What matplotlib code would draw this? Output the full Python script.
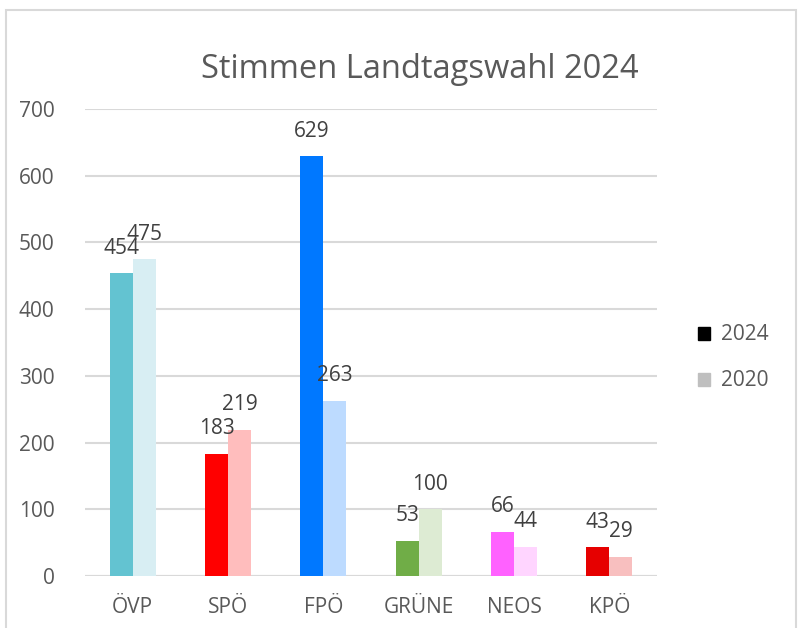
import matplotlib.pyplot as plt
from matplotlib.patches import Patch, Rectangle
import numpy as np

plt.rcParams['font.family'] = ['Open Sans', 'DejaVu Sans']

parteien = ['ÖVP', 'SPÖ', 'FPÖ', 'GRÜNE', 'NEOS', 'KPÖ']
stimmen_2024 = [454, 183, 629, 53, 66, 43]
stimmen_2020 = [475, 219, 263, 100, 44, 29]
farben_2024 = ['#63C3D1', '#FF0000', '#0078FF', '#70AD47', '#FF61FF', '#E60000']
farben_2020 = ['#D8EEF3', '#FFBDBD', '#BDDBFF', '#DDEBD3', '#FFD5FF', '#F8BFBF']

grau = '#595959'
linie = '#D9D9D9'

fig = plt.figure(figsize=(8, 6.28), dpi=100)
# Rahmen des Diagrammbereichs
fig.patches.append(Rectangle((6 / 800, -0.05), 790 / 800, 1.05 - 10 / 628,
                             transform=fig.transFigure, fill=False,
                             edgecolor=linie, linewidth=1.5))

ax = fig.add_axes([85 / 800, 1 - 576 / 628, 572 / 800, 467 / 628])
x = np.arange(len(parteien))
w = 0.24
b1 = ax.bar(x - w / 2, stimmen_2024, w, color=farben_2024, zorder=3)
b2 = ax.bar(x + w / 2, stimmen_2020, w, color=farben_2020, zorder=3)

for bars in (b1, b2):
    for r in bars:
        ax.annotate(str(int(r.get_height())),
                    (r.get_x() + r.get_width() / 2, r.get_height()),
                    xytext=(0, 18), textcoords='offset points',
                    ha='center', va='center', fontsize=15, color='#404040')

ax.set_ylim(0, 700)
ax.set_xlim(-0.5, len(parteien) - 0.5)
ax.set_yticks(range(0, 701, 100))
ax.yaxis.grid(True, color=linie, linewidth=1.5, zorder=0)
ax.set_axisbelow(True)
for s in ax.spines.values():
    s.set_visible(False)
ax.axhline(0, color=linie, linewidth=1.5, zorder=1)
ax.set_xticks(x)
ax.set_xticklabels(parteien)
ax.tick_params(length=0, labelsize=15, colors=grau)
ax.tick_params(axis='x', pad=15)
ax.tick_params(axis='y', pad=22)

fig.text(420 / 800, 1 - 70 / 628, 'Stimmen Landtagswahl 2024',
         ha='center', va='center', fontsize=23.5, color=grau)

handles = [Patch(color='black'), Patch(color='#BFBFBF')]
fig.legend(handles, ['2024', '2020'], loc='center left',
           bbox_to_anchor=(679 / 800, 1 - 358 / 628), frameon=False,
           handlelength=0.6, handleheight=0.6, handletextpad=0.5,
           labelspacing=1.2, fontsize=15, labelcolor=grau)

fig.savefig('out.png', dpi=100)
